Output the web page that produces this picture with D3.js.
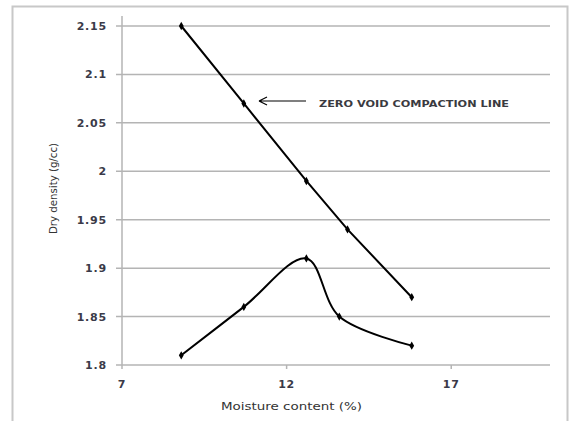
<!DOCTYPE html>
<html lang="en">
<head>
  <meta charset="UTF-8">
  <title>Dry density vs moisture content</title>
  <script src="https://d3js.org/d3.v7.min.js"></script>
  <style>
    body, html { margin: 0; padding: 0; background: #fff; }
  </style>
</head>
<body>
  <svg id="svg" width="570" height="421"></svg>
  <script>
    // zero void compaction line
    const zeroVoidMoisture = [8.8, 10.7, 12.6, 13.85, 15.8];
    const zeroVoidDensity = [2.15, 2.07, 1.99, 1.94, 1.87];
    // compaction curve
    const compactMoisture = [8.8, 10.7, 12.6, 13.6, 15.8];
    const compactDensity = [1.81, 1.86, 1.91, 1.85, 1.82];

    const xTicks = [7, 12, 17];
    const yTicks = [1.8, 1.85, 1.9, 1.95, 2, 2.05, 2.1, 2.15];

    const svg = d3.select("#svg");
    const font = "'DejaVu Sans', Verdana, sans-serif";

    // chart frame
    svg.append("path")
      .attr("d", "M12.5,421 V6.5 H567.5 V421")
      .attr("fill", "none")
      .attr("stroke", "#c8c8c8")
      .attr("stroke-width", 2);

    const x = d3.scaleLinear().domain([7, 20]).range([122, 550]);
    const y = d3.scaleLinear().domain([1.8, 2.15]).range([365, 26]);

    // gridlines
    svg.append("g")
      .selectAll("line")
      .data(yTicks)
      .enter()
      .append("line")
      .attr("x1", 116)
      .attr("x2", 550)
      .attr("y1", d => y(d))
      .attr("y2", d => y(d))
      .attr("stroke", "#b4b4b4")
      .attr("stroke-width", 1.5);

    // y axis line
    svg.append("line")
      .attr("x1", 122).attr("x2", 122)
      .attr("y1", 16).attr("y2", 369)
      .attr("stroke", "#b4b4b4")
      .attr("stroke-width", 1.5);

    // x ticks
    svg.append("g")
      .selectAll("line")
      .data(xTicks.slice(1))
      .enter()
      .append("line")
      .attr("x1", d => x(d)).attr("x2", d => x(d))
      .attr("y1", 365).attr("y2", 369)
      .attr("stroke", "#b4b4b4")
      .attr("stroke-width", 1.5);

    // tick labels
    svg.append("g")
      .selectAll("text")
      .data(yTicks)
      .enter()
      .append("text")
      .text(d => d)
      .attr("x", 107)
      .attr("y", d => y(d) + 4)
      .attr("text-anchor", "end")
      .attr("font-family", font)
      .attr("font-size", "11px")
      .attr("font-weight", "bold")
      .attr("letter-spacing", "0.8px")
      .attr("fill", "#3a3a48");

    svg.append("g")
      .selectAll("text")
      .data(xTicks)
      .enter()
      .append("text")
      .text(d => d)
      .attr("x", d => x(d))
      .attr("y", 388)
      .attr("text-anchor", "middle")
      .attr("font-family", font)
      .attr("font-size", "11px")
      .attr("font-weight", "bold")
      .attr("letter-spacing", "0.8px")
      .attr("fill", "#3a3a48");

    // axis titles
    svg.append("text")
      .text("Moisture content (%)")
      .attr("x", 221)
      .attr("y", 410)
      .attr("textLength", 141)
      .attr("lengthAdjust", "spacingAndGlyphs")
      .attr("font-family", font)
      .attr("font-size", "10.5px")
      .attr("fill", "#333");

    svg.append("text")
      .text("Dry density (g/cc)")
      .attr("transform", "translate(57,234) rotate(-90)")
      .attr("textLength", 91)
      .attr("lengthAdjust", "spacingAndGlyphs")
      .attr("font-family", font)
      .attr("font-size", "10px")
      .attr("fill", "#333");

    // lines
    const zeroVoid = zeroVoidMoisture.map((m, i) => [m, zeroVoidDensity[i]]);
    const compact = compactMoisture.map((m, i) => [m, compactDensity[i]]);

    const straight = d3.line().x(d => x(d[0])).y(d => y(d[1]));
    const smooth = d3.line().x(d => x(d[0])).y(d => y(d[1]))
      .curve(d3.curveCatmullRom.alpha(0.5));

    svg.append("path")
      .attr("d", straight(zeroVoid))
      .attr("fill", "none")
      .attr("stroke", "#000")
      .attr("stroke-width", 2);

    svg.append("path")
      .attr("d", smooth(compact))
      .attr("fill", "none")
      .attr("stroke", "#000")
      .attr("stroke-width", 2);

    const diamond = d3.symbol().type(d3.symbolDiamond).size(20);
    svg.append("g")
      .selectAll("path")
      .data(zeroVoid.concat(compact))
      .enter()
      .append("path")
      .attr("d", diamond)
      .attr("transform", d => `translate(${x(d[0])},${y(d[1])})`)
      .attr("fill", "#000");

    // annotation arrow
    svg.append("path")
      .attr("d", "M306,101 H259 M259,101 L267,97 M259,101 L267,105")
      .attr("fill", "none")
      .attr("stroke", "#000")
      .attr("stroke-width", 1.2);

    svg.append("text")
      .text("ZERO VOID COMPACTION LINE")
      .attr("x", 319)
      .attr("y", 107)
      .attr("textLength", 190)
      .attr("lengthAdjust", "spacingAndGlyphs")
      .attr("font-family", font)
      .attr("font-size", "8.5px")
      .attr("font-weight", "bold")
      .attr("fill", "#3a3a40");
  </script>
</body>
</html>
